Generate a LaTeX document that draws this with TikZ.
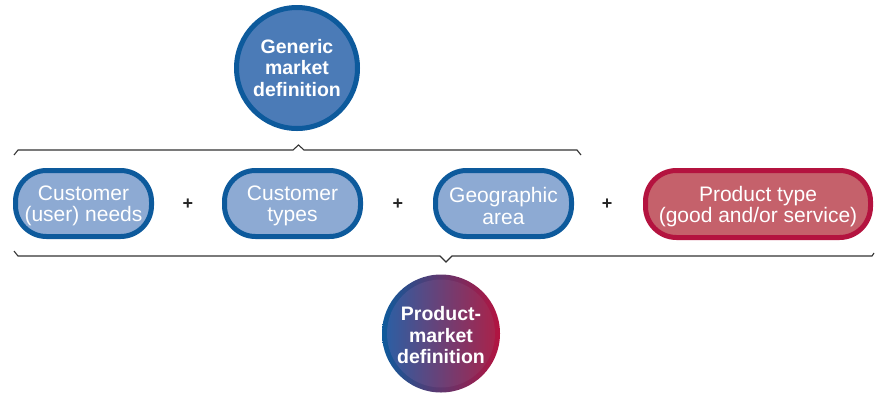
\documentclass[tikz,border=0pt]{standalone}
\usepackage{fontspec}
\setmainfont{Liberation Sans}
\begin{document}
\begin{tikzpicture}[x=1pt,y=-1pt,
  txt/.style={text=white,font=\fontsize{21}{21.5}\selectfont,align=center,inner sep=0pt},
  bluebox/.style={draw=bborder,fill=bfill,line width=5pt,rounded corners=31pt,minimum width=136pt,minimum height=66pt},
  redbox/.style={draw=rborder,fill=rfill,line width=5pt,rounded corners=31pt,minimum width=225pt,minimum height=67pt},
  bigcirc/.style={txt,font=\bfseries\fontsize{19.5}{21.5}\selectfont,circle,inner sep=0pt},
  brace/.style={draw=black!80,line width=1.1pt},
  plus/.style={font=\bfseries\fontsize{18}{20}\selectfont,text=black!85}]
\definecolor{bborder}{HTML}{0D5A9C}
\definecolor{bfill}{HTML}{8DAAD3}
\definecolor{cfill}{HTML}{4B7BB7}
\definecolor{rborder}{HTML}{B4133F}
\definecolor{rfill}{HTML}{C5616B}
\definecolor{gleft}{HTML}{2E5EA2}
\definecolor{gright}{HTML}{A8234B}
\useasboundingbox (0,0) rectangle (875,400);
% generic circle
\node[bigcirc,draw=bborder,fill=cfill,line width=5pt,minimum size=121pt] (gen) at (297,68) {Generic\\market\\definition};
% boxes
\node[bluebox] (b1) at (83.5,203.5) {};
\node[bluebox] (b2) at (292.5,203.5) {};
\node[bluebox] (b3) at (503.5,203.5) {};
\node[redbox] (b4) at (758,204) {};
\node[txt] (t1) at ([yshift=-2.5pt]b1.center) {Customer\\(user) needs};
\node[txt] (t2) at ([yshift=-2.5pt]b2.center) {Customer\\types};
\node[txt] (t3) at ([yshift=-2.5pt]b3.center) {Geographic\\area};
\node[txt] (t4) at ([yshift=-2.5pt]b4.center) {Product type\\(good and/or service)};
\node[plus] (p1) at (188,204) {+};
\node[plus] (p2) at (398,204) {+};
\node[plus] (p3) at (607,204) {+};
% product-market circle
\node[circle,minimum size=118pt,inner sep=0pt,left color=bborder,right color=rborder] (pmo) at (441,333.5) {};
\node[circle,inner sep=0pt,minimum size=108pt,left color=gleft,right color=gright] (pmi) at (pmo) {};
\node[bigcirc] (pm) at ([yshift=-2pt]pmo.center) {Product-\\market\\definition};
% braces
\draw[brace] (14,155) -- (18,150) -- (293,150) -- (298.5,145) -- (304,150) -- (577,150) -- (581,155);
\draw[brace] (14,251) -- (18,256) -- (440,256) -- (446,262) -- (452,256) -- (872,256) -- (874,253);
\end{tikzpicture}
\end{document}
